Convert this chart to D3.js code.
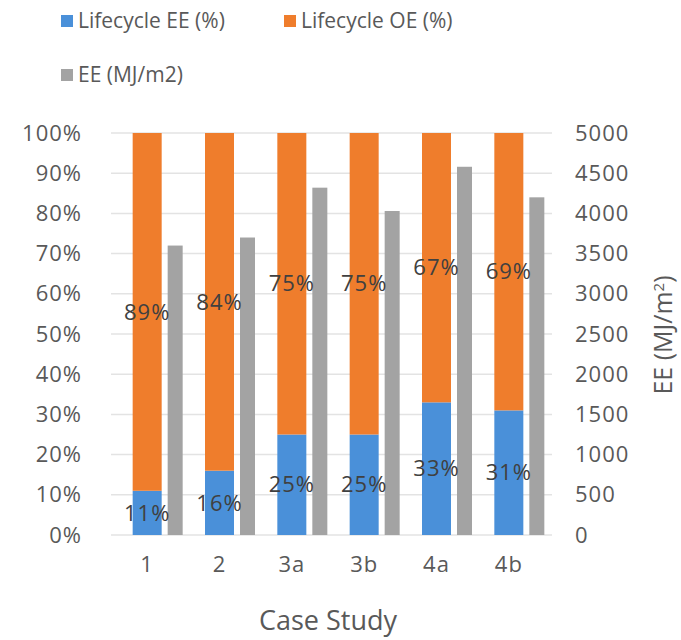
<!DOCTYPE html>
<html><head><meta charset="utf-8">
<script src="https://cdn.jsdelivr.net/npm/d3@7"></script>
<style>body{margin:0;background:#fff;} text{font-family:"Open Sans","Noto Sans",sans-serif;}</style>
</head><body><svg id="c" width="681" height="640"></svg>
<script>
const categories = ["1","2","3a","3b","4a","4b"];
const lifecycleEE = [11,16,25,25,33,31];
const lifecycleOE = [89,84,75,75,67,69];
const eeMJ = [3600,3700,4320,4030,4580,4200];
const leftTicks = [0,10,20,30,40,50,60,70,80,90,100];
const rightTicks = [0,500,1000,1500,2000,2500,3000,3500,4000,4500,5000];
const colors = {ee:"#4A90D9", oe:"#EF7D2C", mj:"#A3A3A3"};

const svg = d3.select("#c");
const L=111, R=545, T=133, B=535;
const x = d3.scaleBand().domain(categories).range([L,R]);
const yL = d3.scaleLinear().domain([0,100]).range([B,T]);
const yR = d3.scaleLinear().domain([0,5000]).range([B,T]);

// gridlines
svg.append("g").selectAll("line").data(leftTicks).join("line")
  .attr("x1",L).attr("x2",552).attr("y1",d=>yL(d)).attr("y2",d=>yL(d))
  .attr("stroke","#e3e3e3").attr("stroke-width",1.5);

const ow=29, gw=15, goff=28;
const cx = c => x(c)+x.bandwidth()/2;
// stacked bars
svg.append("g").selectAll("rect").data(categories).join("rect")
  .attr("x",c=>cx(c)-ow/2).attr("width",ow)
  .attr("y",(c,i)=>yL(lifecycleEE[i])).attr("height",(c,i)=>B-yL(lifecycleEE[i]))
  .attr("fill",colors.ee);
svg.append("g").selectAll("rect").data(categories).join("rect")
  .attr("x",c=>cx(c)-ow/2).attr("width",ow)
  .attr("y",(c,i)=>yL(lifecycleEE[i]+lifecycleOE[i])).attr("height",(c,i)=>yL(lifecycleEE[i])-yL(lifecycleEE[i]+lifecycleOE[i]))
  .attr("fill",colors.oe);
// gray bars
svg.append("g").selectAll("rect").data(categories).join("rect")
  .attr("x",c=>cx(c)+goff-gw/2).attr("width",gw)
  .attr("y",(c,i)=>yR(eeMJ[i])).attr("height",(c,i)=>B-yR(eeMJ[i]))
  .attr("fill",colors.mj);
// data labels
const lab = svg.append("g").attr("font-size",22).attr("letter-spacing",1).attr("fill","#404040").attr("text-anchor","middle");
lab.selectAll("text.ee").data(categories).join("text").attr("class","ee")
  .attr("x",c=>cx(c)).attr("y",(c,i)=>(yL(0)+yL(lifecycleEE[i]))/2).attr("dy","0.35em")
  .text((c,i)=>lifecycleEE[i]+"%");
lab.selectAll("text.oe").data(categories).join("text").attr("class","oe")
  .attr("x",c=>cx(c)).attr("y",(c,i)=>(yL(lifecycleEE[i])+yL(100))/2).attr("dy","0.35em")
  .text((c,i)=>lifecycleOE[i]+"%");

// axes
const axL = svg.append("g").attr("transform",`translate(${L-29},0)`)
  .call(d3.axisLeft(yL).tickValues(leftTicks).tickFormat(d=>d+"%").tickSize(0).tickPadding(0));
const axR = svg.append("g").attr("transform",`translate(575,0)`)
  .call(d3.axisRight(yR).tickValues(rightTicks).tickFormat(d3.format("d")).tickSize(0).tickPadding(0));
const axB = svg.append("g").attr("transform",`translate(0,${B})`)
  .call(d3.axisBottom(x).tickSize(0).tickPadding(30));
[axL,axR,axB].forEach(a=>{a.select(".domain").remove();
  a.selectAll("text").attr("font-size",22).attr("letter-spacing",1).attr("fill","#595959").attr("font-family","'Open Sans',sans-serif");});
axB.selectAll("text").attr("dy","0.32em");

svg.append("text").attr("x",328).attr("y",621).attr("dy","0.35em").attr("text-anchor","middle")
  .attr("font-size",27).attr("fill","#595959").text("Case Study");
const rt = svg.append("text").attr("transform","translate(663,335) rotate(-90)").attr("text-anchor","middle")
  .attr("dy","0.35em").attr("font-size",25).attr("fill","#595959");
rt.append("tspan").text("EE (MJ/m");
rt.append("tspan").attr("font-size",15).attr("dy","-8").text("2");
rt.append("tspan").attr("dy","8").text(")");

// legend
const legend = [{t:"Lifecycle EE (%)",c:colors.ee,x:61,y:21},{t:"Lifecycle OE (%)",c:colors.oe,x:284,y:21},{t:"EE (MJ/m2)",c:colors.mj,x:61,y:75}];
const lg = svg.append("g").selectAll("g").data(legend).join("g");
lg.append("rect").attr("x",d=>d.x).attr("y",d=>d.y-6).attr("width",12).attr("height",12).attr("fill",d=>d.c);
lg.append("text").attr("x",d=>d.x+17).attr("y",d=>d.y).attr("dy","0.35em").attr("font-size",21).attr("fill","#595959").text(d=>d.t);
</script></body></html>
